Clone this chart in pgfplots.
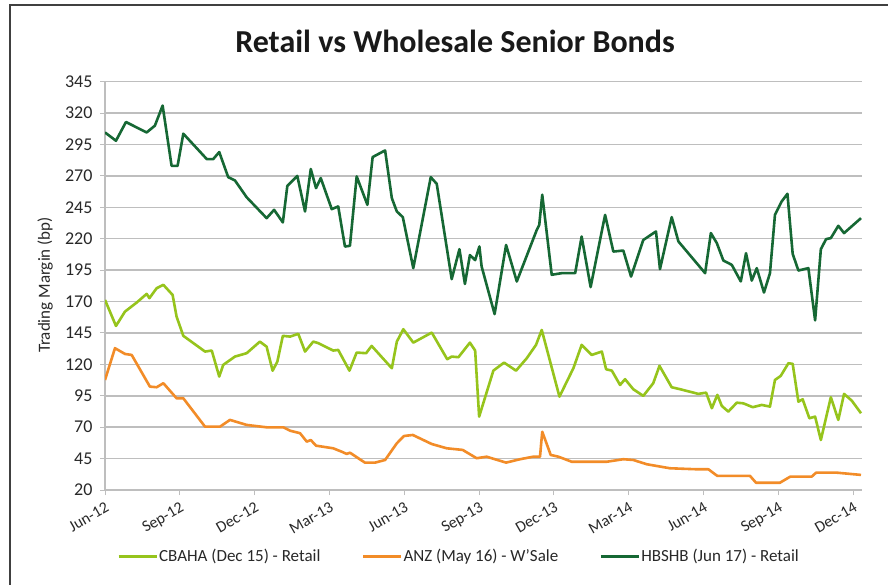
\documentclass[border=0pt]{standalone}
\usepackage{fontspec}
\setmainfont{Carlito}
\usepackage{pgfplots}
\pgfplotsset{compat=1.18}
\definecolor{lgreen}{RGB}{150,196,28}
\definecolor{orng}{RGB}{242,140,40}
\definecolor{dgreen}{RGB}{22,104,52}
\definecolor{gridgray}{RGB}{190,190,190}
\definecolor{txt}{RGB}{40,40,40}
\begin{document}
\begin{tikzpicture}[x=1pt,y=1pt]
\useasboundingbox (0,0) rectangle (888,584);
\fill[white] (0,0) rectangle (888,584);
\draw[line width=1.5pt, black!75] (10,-10) rectangle (900,579);
\node[font=\bfseries\fontsize{32}{36}\selectfont, text=black!90] at (455,543) {Retail vs Wholesale Senior Bonds};
\begin{axis}[
 at={(105pt,94pt)}, anchor=south west, scale only axis, width=757pt, height=408.3pt,
 xmin=0, xmax=30.35, ymin=20, ymax=345,
 axis x line=bottom, axis y line=left, axis line style={-, gridgray, line width=1.2pt},
 ytick={20,45,...,345},
 xtick={0,3,...,30},
 xticklabels={Jun-12,Sep-12,Dec-12,Mar-13,Jun-13,Sep-13,Dec-13,Mar-14,Jun-14,Sep-14,Dec-14},
 tick align=outside, major tick length=5pt, tick style={gridgray, line width=1pt},
 ymajorgrids, grid style={gridgray, line width=1.5pt},
 yticklabel style={font=\fontsize{18}{20}\selectfont, text=txt, xshift=-4pt},
 xticklabel style={font=\fontsize{16}{18}\selectfont, text=txt, rotate=30, anchor=north east, yshift=-2pt},
 /pgf/number format/assume math mode=true,
 ylabel={Trading Margin (bp)},
 ylabel style={font=\fontsize{17}{19}\selectfont, text=txt, at={(axis description cs:-0.079,0.502)}, anchor=center},
 legend columns=3,
 legend style={draw=none, fill=none, font=\fontsize{17}{19}\selectfont, text=txt, at={(axis description cs:0.467,-0.162)}, anchor=center, /tikz/every even column/.append style={column sep=40pt}, inner sep=0pt, nodes={inner sep=1pt}},
 legend image code/.code={\draw[#1, line width=3pt] (0pt,0pt) -- (38pt,0pt);},
 every axis plot/.append style={line width=2.6pt, line join=round, no markers},
]
\addplot[lgreen] coordinates {
(0,171.3)(0.44,150.6)(0.80,162)(1.27,169.2)(1.67,176.1)(1.78,172.7)(2.07,180.6)(2.34,183.3)(2.71,175.3)(2.87,158)
(3.14,142.7)(4.01,130.2)(4.28,131)(4.58,110.3)(4.74,119.6)(5.21,126.2)(5.68,128.9)(6.21,138.1)(6.48,134.1)(6.72,115)
(6.91,122.2)(7.13,142.7)(7.42,142.1)(7.75,144.3)(8.02,130.2)(8.35,138.1)(8.55,136.9)(9.15,131)(9.35,131.5)(9.80,115)
(10.09,129.4)(10.47,128.9)(10.69,134.7)(11.50,116.9)(11.70,138.1)(11.96,148)(12.36,137.3)(13.10,145.3)(13.72,124.1)(13.90,126.2)
(14.17,125.7)(14.63,137.3)(14.84,131)(15.00,78.4)(15.57,115)(16.00,121.4)(16.48,115)(16.91,124.9)(17.28,135.5)(17.51,147.4)
(18.22,94.3)(18.78,117)(19.11,135.5)(19.51,127.5)(19.92,130.2)(20.09,116.1)(20.32,115)(20.65,103.6)(20.85,108.2)(21.18,100.2)
(21.58,94.9)(21.98,105)(22.23,118.8)(22.72,101.8)(23.06,100.2)(23.79,96.5)(24.10,97.5)(24.33,85.1)(24.55,95.7)(24.73,86.9)
(24.99,82.4)(25.33,89.5)(25.59,89)(25.97,85.9)(26.33,87.7)(26.66,86.4)(26.86,107.6)(27.09,110.8)(27.40,120.9)(27.57,120.4)
(27.80,90.3)(27.97,92.2)(28.24,77.1)(28.47,78.4)(28.70,59.8)(29.10,93.8)(29.40,75.8)(29.63,96.5)(29.94,91.1)(30.31,81.1)
};
\addlegendentry{CBAHA (Dec 15) - Retail}
\addplot[orng] coordinates {
(0,107.6)(0.40,132.9)(0.80,128.3)(1.07,127.5)(1.80,102.3)(2.07,101.8)(2.34,105)(2.87,93)(3.14,93)(4.01,70.4)
(4.61,70.4)(5.01,75.8)(5.68,71.8)(6.48,69.9)(7.15,69.9)(7.42,67.2)(7.82,65.2)(8.09,58.5)(8.25,59.8)(8.46,55.3)
(9.15,53.2)(9.49,50.5)(9.69,48.7)(9.82,49.7)(10.42,41.8)(10.83,41.8)(11.23,43.9)(11.70,57.2)(11.99,63)(12.34,63.8)
(13.10,56.6)(13.70,53.2)(14.34,51.9)(14.90,45.3)(15.30,46.5)(16.08,41.8)(16.64,44.5)(17.17,46.5)(17.44,46.5)(17.53,66.4)
(17.87,47.9)(18.18,46.5)(18.71,42.5)(20.12,42.5)(20.78,44.5)(21.18,43.9)(21.72,40.5)(22.65,37.3)(23.73,36.5)(24.19,36.5)
(24.55,31.2)(25.86,31.2)(26.10,25.8)(27.06,25.8)(27.47,30.6)(28.33,30.6)(28.51,33.8)(29.34,33.8)(30.31,32)
};
\addlegendentry{ANZ (May 16) - W'Sale}
\addplot[dgreen] coordinates {
(0,304.6)(0.44,298)(0.84,312.9)(1.67,304.6)(2.00,310)(2.31,326)(2.67,278)(2.91,278)(3.14,303.6)(4.08,283.4)
(4.34,283.4)(4.58,289)(4.94,269)(5.21,266.4)(5.68,253)(6.48,236.4)(6.78,243)(7.13,233)(7.31,262)(7.71,270)
(8.02,241.7)(8.25,275.5)(8.46,260.3)(8.65,268.3)(9.09,243.6)(9.35,245.7)(9.62,213.8)(9.82,214.4)(10.09,269.6)(10.52,247)
(10.73,285)(11.23,290.3)(11.50,252.3)(11.70,241.7)(11.94,237.2)(12.36,196.6)(13.06,269)(13.30,263.7)(13.90,187.8)(14.21,211.7)
(14.43,184)(14.63,207)(14.84,203)(15.01,213.8)(15.10,197.9)(15.62,160)(16.08,215)(16.51,186)(17.31,227)(17.41,231)
(17.53,255)(17.91,191.3)(18.31,192.6)(18.85,192.6)(19.11,221.8)(19.47,181.5)(20.05,239)(20.38,209.8)(20.78,210.6)(21.09,189.9)
(21.58,219)(22.09,225.8)(22.25,195.8)(22.72,237.2)(22.99,217.8)(24.06,192.6)(24.29,224.5)(24.53,216.5)(24.79,202.7)(25.13,199.2)
(25.49,186)(25.70,208.5)(25.93,186.7)(26.13,196.6)(26.42,177.2)(26.66,192.6)(26.86,239)(27.13,249.7)(27.36,255.8)(27.57,208)
(27.80,194.7)(28.20,196.6)(28.47,155)(28.70,211.7)(28.91,219.7)(29.10,220.5)(29.40,230.3)(29.63,224.5)(30.31,236.4)
};
\addlegendentry{HBSHB (Jun 17) - Retail}
\end{axis}
\end{tikzpicture}
\end{document}
